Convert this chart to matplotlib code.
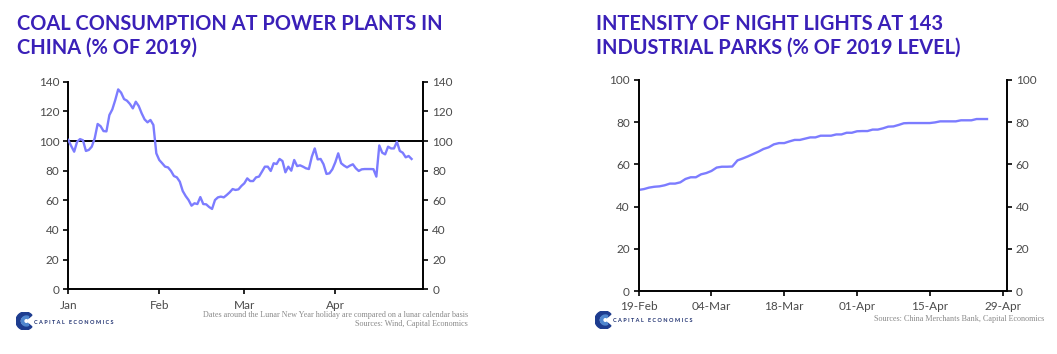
import numpy as np
import pandas as pd
import matplotlib
matplotlib.use("Agg")
import matplotlib.pyplot as plt
import matplotlib.dates as mdates
from matplotlib.patches import Wedge

# ========= data =========
# coal consumption, daily from 1 Jan 2020 (% of 2019)
coal_start = "2020-01-01"
coal_vals = [
    100.7, 96.6, 92.8, 99.5, 101.3, 100.5, 93.3, 94.0, 96.2, 101.8,
    111.5, 110.0, 106.7, 106.5, 117.5, 121.3, 127.6, 134.8, 132.6, 128.3,
    127.2, 125.0, 122.0, 126.5, 123.6, 118.7, 114.6, 112.6, 114.2, 110.8,
    91.7, 87.2, 85.0, 82.7, 82.2, 79.8, 76.4, 75.5, 72.6, 66.3,
    62.9, 60.2, 56.4, 58.0, 57.5, 62.2, 57.5, 57.3, 55.5, 54.2,
    60.2, 62.0, 62.5, 62.0, 63.6, 65.4, 67.6, 67.0, 67.4, 69.7,
    71.5, 74.8, 73.0, 73.0, 75.5, 76.0, 79.3, 82.7, 82.7, 79.8,
    85.0, 84.5, 87.9, 86.5, 78.9, 82.7, 80.0, 87.2, 83.1, 83.6,
    82.7, 81.6, 81.1, 89.4, 95.0, 87.6, 87.9, 84.3, 77.8, 78.2,
    80.9, 85.6, 91.7, 85.0, 83.4, 82.2, 83.4, 84.3, 81.6, 79.8,
    80.9, 81.1, 81.1, 81.1, 81.0, 76.0, 97.0, 92.1, 91.0, 96.2,
    95.0, 95.0, 99.5, 93.3, 92.1, 89.0, 89.9, 87.9,
]
coal_ticks = ["2020-01-01", "2020-02-01", "2020-03-01", "2020-04-01"]
coal_ticklabels = ["Jan", "Feb", "Mar", "Apr"]

# night lights, daily from 19 Feb 2020 (% of 2019 level)
lights_start = "2020-02-19"
lights_vals = [
    47.9, 48.3, 49.0, 49.4, 49.6, 50.1, 50.9, 50.9, 51.5, 53.1,
    53.9, 53.9, 55.3, 55.9, 56.9, 58.5, 58.9, 58.9, 59.0, 61.9,
    62.8, 63.8, 64.9, 66.0, 67.3, 68.1, 69.5, 70.1, 70.1, 70.9,
    71.6, 71.6, 72.2, 72.8, 72.8, 73.6, 73.6, 73.6, 74.2, 74.2,
    75.0, 75.0, 75.7, 75.8, 75.8, 76.5, 76.5, 77.1, 77.9, 78.0,
    78.7, 79.5, 79.6, 79.6, 79.6, 79.6, 79.6, 79.9, 80.4, 80.4,
    80.4, 80.4, 80.9, 80.9, 80.9, 81.5, 81.5, 81.5,
]
lights_ticks = ["2020-02-19", "2020-03-04", "2020-03-18", "2020-04-01", "2020-04-15", "2020-04-29"]
lights_ticklabels = ["19-Feb", "04-Mar", "18-Mar", "01-Apr", "15-Apr", "29-Apr"]

# ========= style =========
W, H = 1057, 354
TITLE_C = "#3a20b8"
LINE_C = "#7c7cff"
TICK_C = "#4a4a4a"
NOTE_C = "#8a8a8a"
plt.rcParams["font.family"] = ["Lato", "DejaVu Sans"]


def px_axes(fig, x0, y0, x1, y1):
    return fig.add_axes([x0 / W, 1 - y1 / H, (x1 - x0) / W, (y1 - y0) / H])


def style_axes(ax, yticks):
    ax.spines["top"].set_visible(False)
    for s in ("left", "right", "bottom"):
        ax.spines[s].set_linewidth(1.4)
        ax.spines[s].set_color("black")
    ax.set_yticks(yticks)
    ax.tick_params(axis="both", direction="out", length=3.5, width=1.2,
                   labelsize=8.5, labelcolor=TICK_C, pad=3)
    ax.tick_params(axis="x", pad=4)
    ax.tick_params(axis="y", left=True, right=True, labelleft=True, labelright=True)


def logo(fig, x, y):
    lax = px_axes(fig, x, y, x + 18, y + 18)
    lax.set_xlim(-1, 1); lax.set_ylim(-1, 1); lax.axis("off")
    lax.add_patch(Wedge((0, 0), 1.0, 40, 320, width=0.45, color="#1d3c8f"))
    lax.add_patch(Wedge((0.15, 0), 0.55, 60, 300, width=0.25, color="#4f86cf"))
    fig.text((x + 18) / W, 1 - (y + 10) / H, " ".join("CAPITAL") + "   " + " ".join("ECONOMICS"),
             fontsize=4.0, fontweight="bold", color="#1d2f6f", va="center")


fig = plt.figure(figsize=(W / 100, H / 100), dpi=100)

# ---------- left: coal ----------
fig.text(17 / W, 1 - 14 / H, "COAL CONSUMPTION AT POWER PLANTS IN\nCHINA (% OF 2019)",
         fontsize=14.4, fontweight="bold", color=TITLE_C, va="top", ha="left", linespacing=1.22)
ax1 = px_axes(fig, 68.3, 81.7, 423.3, 289.3)
d1 = pd.date_range(coal_start, periods=len(coal_vals), freq="D")
ax1.axhline(100, color="black", lw=1.4, zorder=2)
ax1.plot(d1, coal_vals, color=LINE_C, lw=1.7, zorder=3)
ax1.set_xlim(pd.Timestamp("2020-01-01"), pd.Timestamp("2020-05-01"))
ax1.set_ylim(0, 140)
style_axes(ax1, range(0, 141, 20))
ax1.set_xticks(pd.to_datetime(coal_ticks))
ax1.set_xticklabels(coal_ticklabels)
fig.text(468 / W, 1 - 315 / H, "Dates around the Lunar New Year holiday are compared on a lunar calendar basis",
         family="Liberation Serif", fontsize=5.9, color=NOTE_C, ha="right", va="center")
fig.text(468 / W, 1 - 324 / H, "Sources: Wind, Capital Economics",
         family="Liberation Serif", fontsize=5.9, color=NOTE_C, ha="right", va="center")
logo(fig, 16, 312)

# ---------- right: night lights ----------
fig.text(596 / W, 1 - 14 / H, "INTENSITY OF NIGHT LIGHTS AT 143\nINDUSTRIAL PARKS (% OF 2019 LEVEL)",
         fontsize=14.4, fontweight="bold", color=TITLE_C, va="top", ha="left", linespacing=1.22)
ax2 = px_axes(fig, 638.7, 80, 1006.7, 291)
d2 = pd.date_range(lights_start, periods=len(lights_vals), freq="D")
ax2.plot(d2, lights_vals, color=LINE_C, lw=1.7)
ax2.set_xlim(pd.Timestamp("2020-02-19"), pd.Timestamp("2020-04-29") + pd.Timedelta(hours=19))
ax2.set_ylim(0, 100)
style_axes(ax2, range(0, 101, 20))
ax2.set_xticks(pd.to_datetime(lights_ticks))
ax2.set_xticklabels(lights_ticklabels)
fig.text(1044 / W, 1 - 319 / H, "Sources: China Merchants Bank, Capital Economics",
         family="Liberation Serif", fontsize=5.9, color=NOTE_C, ha="right", va="center")
logo(fig, 595, 311)

fig.savefig("out.png", dpi=100)
